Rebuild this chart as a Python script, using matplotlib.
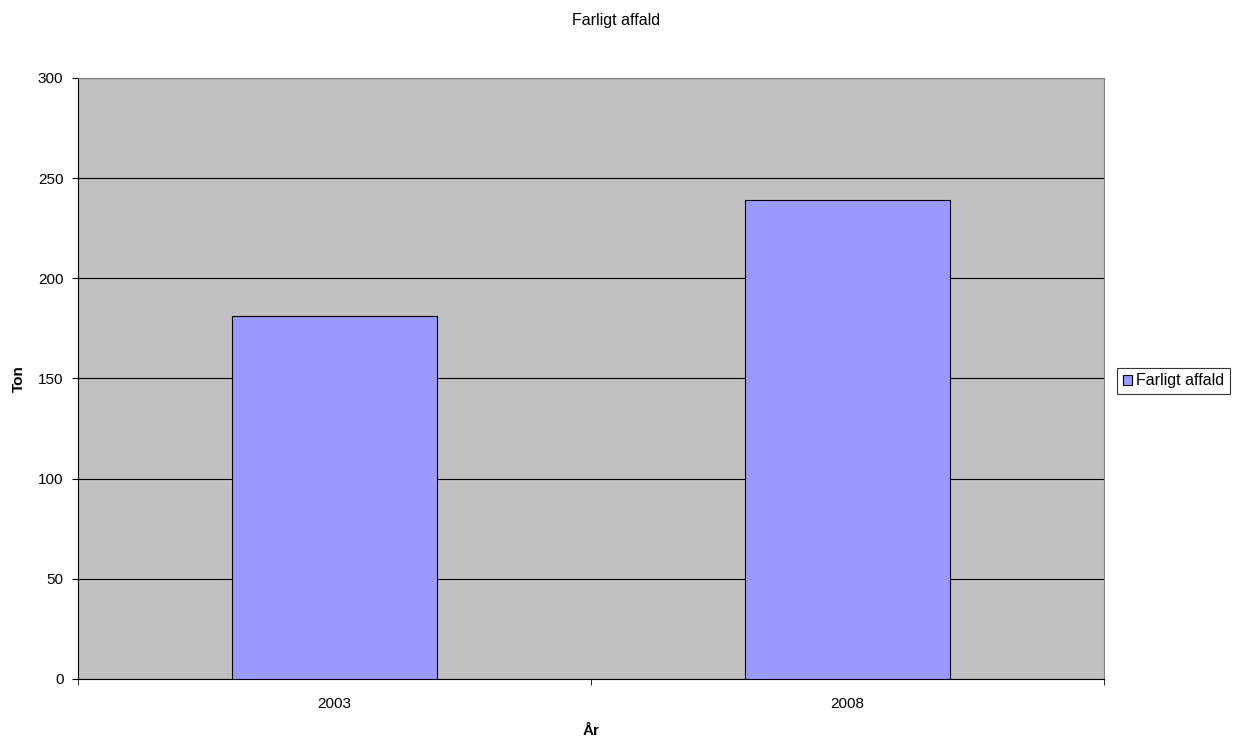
import matplotlib.pyplot as plt

years = ['2003', '2008']
tons = [181, 239]

plt.rcParams['font.family'] = ['Liberation Sans', 'DejaVu Sans']

fig = plt.figure(figsize=(12.33, 7.4), dpi=100)
ax = fig.add_axes([78/1233, 1 - 679/740, (1104 - 78)/1233, (679 - 78)/740])
ax.set_facecolor('#C0C0C0')

x = range(len(years))
ax.bar(x, tons, width=0.4, color='#9999FF', edgecolor='black', linewidth=0.8,
       label='Farligt affald', zorder=3)

ax.set_xlim(-0.5, len(years) - 0.5)
ax.set_ylim(0, 300)
ax.set_yticks(range(0, 301, 50))
ax.yaxis.grid(True, color='black', linewidth=0.8, zorder=1)
ax.set_xticks(list(x))
ax.set_xticklabels(years, fontsize=11)
ax.set_xticks([-0.5, 0.5, 1.5], minor=True)
ax.tick_params(axis='x', which='major', length=0, pad=13)
ax.tick_params(axis='x', which='minor', length=4.5, direction='out')
ax.tick_params(axis='y', length=4.5, direction='out', labelsize=11, pad=6)

for s in ['top', 'right']:
    ax.spines[s].set_color('#808080')
for s in ['left', 'bottom']:
    ax.spines[s].set_color('black')

ax.set_xlabel('År', fontsize=11, fontweight='bold', labelpad=9)
ax.set_ylabel('Ton', fontsize=11, fontweight='bold', labelpad=9)
fig.text(0.5, 1 - 21/740, 'Farligt affald', ha='center', va='center', fontsize=11.5)

leg = ax.legend(loc='center left', bbox_to_anchor=((1117 - 78)/1026, 0.496), fontsize=11.5,
                frameon=True, fancybox=False, edgecolor='black', borderpad=0.35,
                handlelength=0.6, handleheight=0.6, handletextpad=0.25,
                borderaxespad=0)
leg.get_frame().set_linewidth(0.8)

fig.savefig('out.png', dpi=100)
